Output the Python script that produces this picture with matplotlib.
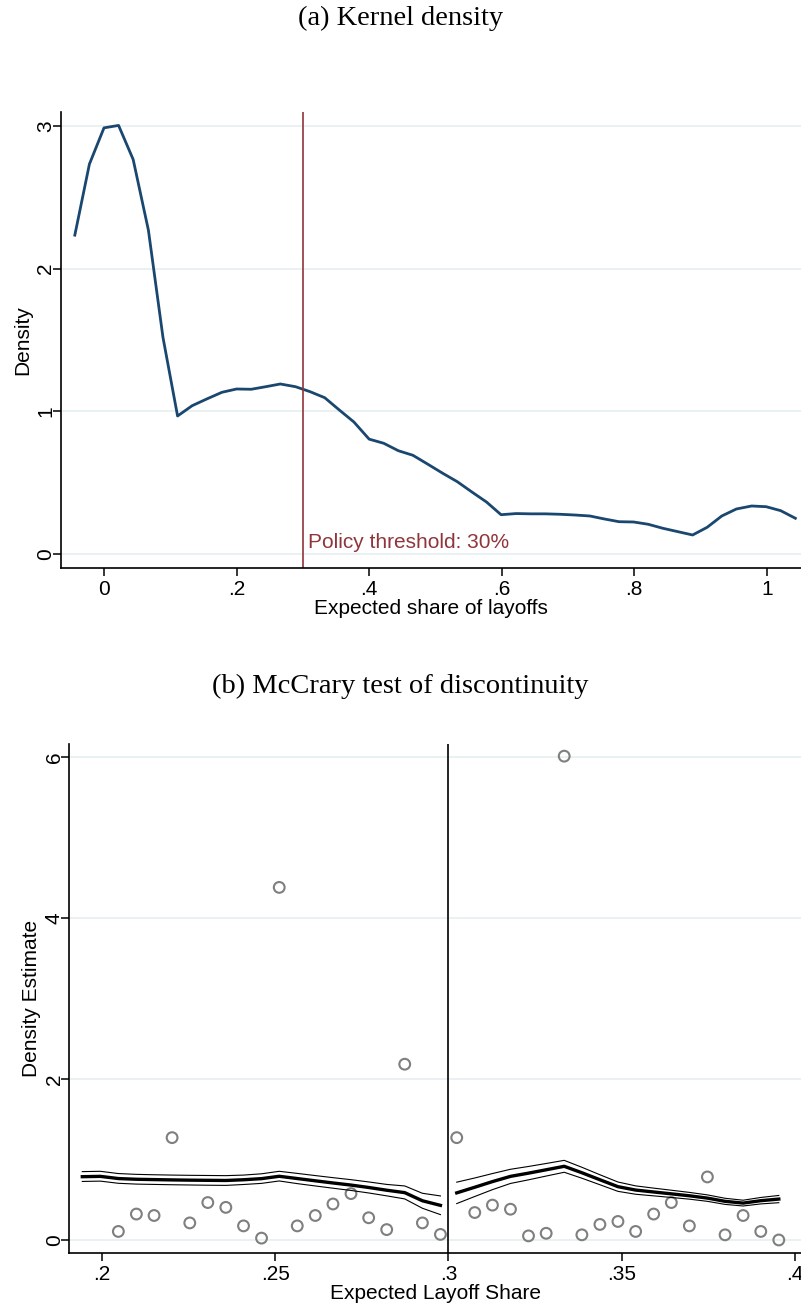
import numpy as np
import matplotlib
matplotlib.use("Agg")
import matplotlib.pyplot as plt

# ---- panel (a): kernel density of expected layoff share ----
kd_x = [-0.044, -0.022, 0.000, 0.022, 0.044, 0.067, 0.089, 0.111, 0.133, 0.155,
        0.178, 0.200, 0.222, 0.244, 0.266, 0.289, 0.311, 0.333, 0.355, 0.377,
        0.400, 0.422, 0.444, 0.466, 0.488, 0.511, 0.533, 0.555, 0.577, 0.599,
        0.622, 0.644, 0.666, 0.688, 0.710, 0.733, 0.755, 0.777, 0.799, 0.821,
        0.843, 0.866, 0.888, 0.910, 0.932, 0.954, 0.977, 0.999, 1.021, 1.043]
kd_y = [2.234, 2.731, 2.985, 3.002, 2.764, 2.269, 1.518, 0.968, 1.040, 1.087,
        1.134, 1.157, 1.155, 1.173, 1.192, 1.173, 1.138, 1.096, 1.010, 0.926,
        0.806, 0.777, 0.725, 0.693, 0.632, 0.567, 0.508, 0.436, 0.366, 0.277,
        0.285, 0.283, 0.283, 0.280, 0.275, 0.268, 0.247, 0.228, 0.226, 0.210,
        0.182, 0.158, 0.135, 0.189, 0.268, 0.317, 0.338, 0.333, 0.305, 0.252]
threshold = 0.3

# ---- panel (b): McCrary test ----
bin_x_left = [0.2048, 0.2100, 0.2151, 0.2203, 0.2254, 0.2306, 0.2358, 0.2409, 0.2461, 0.2512,
              0.2564, 0.2616, 0.2667, 0.2719, 0.2770, 0.2822, 0.2874, 0.2925, 0.2977]
bin_y_left = [0.106, 0.322, 0.304, 1.271, 0.212, 0.465, 0.405, 0.175, 0.023, 4.379,
              0.175, 0.304, 0.447, 0.576, 0.276, 0.129, 2.183, 0.212, 0.069]
bin_x_right = [0.3024, 0.3076, 0.3127, 0.3179, 0.3231, 0.3282, 0.3334, 0.3385, 0.3437, 0.3489,
               0.3540, 0.3592, 0.3643, 0.3695, 0.3747, 0.3798, 0.3850, 0.3901, 0.3953]
bin_y_right = [1.271, 0.341, 0.433, 0.382, 0.051, 0.083, 6.009, 0.064, 0.193, 0.230,
               0.106, 0.322, 0.465, 0.175, 0.783, 0.064, 0.304, 0.106, 0.000]

fit_x_left = [0.1944, 0.1996, 0.2048, 0.2100, 0.2151, 0.2203, 0.2254, 0.2306, 0.2358, 0.2409,
              0.2461, 0.2512, 0.2564, 0.2616, 0.2667, 0.2719, 0.2770, 0.2822, 0.2874, 0.2925, 0.2977]
fit_left = [0.786, 0.790, 0.763, 0.754, 0.750, 0.746, 0.743, 0.741, 0.739, 0.748,
            0.762, 0.791, 0.763, 0.735, 0.708, 0.682, 0.652, 0.618, 0.588, 0.487, 0.430]
hi_left = [0.849, 0.853, 0.825, 0.815, 0.810, 0.806, 0.803, 0.801, 0.799, 0.806,
           0.822, 0.853, 0.827, 0.800, 0.774, 0.749, 0.721, 0.690, 0.671, 0.580, 0.547]
lo_left = [0.727, 0.731, 0.704, 0.694, 0.690, 0.686, 0.683, 0.680, 0.678, 0.689,
           0.703, 0.733, 0.700, 0.671, 0.643, 0.615, 0.584, 0.548, 0.510, 0.394, 0.315]

fit_x_right = bin_x_right
fit_right = [0.585, 0.655, 0.725, 0.790, 0.830, 0.872, 0.915, 0.835, 0.748, 0.662,
             0.620, 0.596, 0.573, 0.549, 0.520, 0.480, 0.458, 0.488, 0.508]
hi_right = [0.718, 0.770, 0.825, 0.878, 0.913, 0.950, 0.989, 0.903, 0.810, 0.720,
            0.672, 0.644, 0.618, 0.591, 0.560, 0.518, 0.494, 0.528, 0.553]
lo_right = [0.452, 0.540, 0.625, 0.702, 0.747, 0.794, 0.841, 0.767, 0.686, 0.604,
            0.568, 0.548, 0.528, 0.507, 0.480, 0.442, 0.422, 0.448, 0.463]

sans = ['Liberation Sans', 'DejaVu Sans']
serif = ['Liberation Serif', 'DejaVu Serif']
grid_col = '#e8f0f2'
navy = '#1a476f'
maroon = '#90353b'
fs = 15

plt.rcParams['font.family'] = sans
plt.rcParams['font.size'] = fs

fig = plt.figure(figsize=(8.01, 13.14), dpi=100)
W, H = 801, 1314


def stata_axes(ax):
    for s in ['top', 'right']:
        ax.spines[s].set_visible(False)
    for s in ['left', 'bottom']:
        ax.spines[s].set_linewidth(1.2)
    ax.tick_params(direction='out', length=6, width=1.1, labelsize=fs, pad=3)
    ax.tick_params(axis='y', labelrotation=90, pad=-2)
    for lab in ax.get_yticklabels():
        lab.set_va('center')
    ax.grid(axis='y', color=grid_col, linewidth=1.3)
    ax.set_axisbelow(True)


# panel (a)
ax1 = fig.add_axes([60.7 / W, 1 - 567.7 / H, (W - 60.7) / W, (567.7 - 112) / H])
ax1.plot(kd_x, kd_y, color=navy, linewidth=2.0)
ax1.axvline(threshold, color=maroon, linewidth=1.2)
ax1.text(threshold + 0.008, 0.045, 'Policy threshold: 30%', color=maroon,
         fontsize=15, ha='left', va='baseline')
ax1.set_xlim(-0.0653, 1.0515)
ax1.set_ylim(-0.094, 3.096)
ax1.set_xticks([0, 0.2, 0.4, 0.6, 0.8, 1.0])
ax1.set_xticklabels(['0', '.2', '.4', '.6', '.8', '1'])
ax1.set_yticks([0, 1, 2, 3])
ax1.set_yticklabels(['0', '1', '2', '3'])
ax1.set_xlabel('Expected share of layoffs', fontsize=fs, labelpad=0)
ax1.set_ylabel('Density', fontsize=fs, labelpad=3)
stata_axes(ax1)

# panel (b)
ax2 = fig.add_axes([69.3 / W, 1 - 1252.7 / H, (W - 69.3) / W, (1252.7 - 744) / H])
ax2.scatter(bin_x_left, bin_y_left, s=60, facecolors='none', edgecolors='#7f7f7f',
            linewidths=1.5, zorder=3)
ax2.scatter(bin_x_right, bin_y_right, s=60, facecolors='none', edgecolors='#7f7f7f',
            linewidths=1.5, zorder=3)
for xs, mid, hi, lo in [(fit_x_left, fit_left, hi_left, lo_left),
                        (fit_x_right, fit_right, hi_right, lo_right)]:
    ax2.plot(xs, mid, color='black', linewidth=2.4, zorder=4)
    ax2.plot(xs, hi, color='black', linewidth=0.8, zorder=4)
    ax2.plot(xs, lo, color='black', linewidth=0.8, zorder=4)
ax2.axvline(threshold, color='black', linewidth=1.2)
ax2.set_xlim(0.19065, 0.4017)
ax2.set_ylim(-0.158, 6.16)
ax2.set_xticks([0.2, 0.25, 0.3, 0.35, 0.4])
ax2.set_xticklabels(['.2', '.25', '.3', '.35', '.4'])
ax2.set_yticks([0, 2, 4, 6])
ax2.set_yticklabels(['0', '2', '4', '6'])
ax2.set_xlabel('Expected Layoff Share', fontsize=fs, labelpad=0)
ax2.set_ylabel('Density Estimate', fontsize=fs, labelpad=3)
stata_axes(ax2)

fig.text(0.5, 1 - 18 / H, '(a) Kernel density', family=serif, fontsize=20.5,
         ha='center', va='center')
fig.text(0.5, 1 - 686 / H, '(b) McCrary test of discontinuity', family=serif,
         fontsize=20.5, ha='center', va='center')

fig.savefig('out.png', dpi=100)
